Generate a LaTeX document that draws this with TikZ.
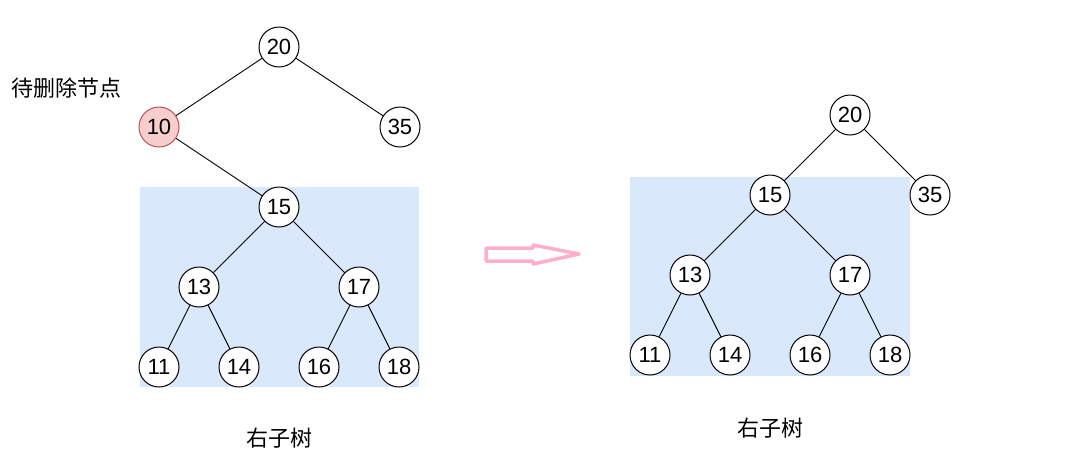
\documentclass[tikz,border=0pt]{standalone}
\usepackage{fontspec}
\setmainfont{Liberation Sans}
\newfontfamily\cjk{Noto Sans CJK SC}
\usepackage{tikz}
\definecolor{subbg}{HTML}{DAE8FC}
\definecolor{delfill}{HTML}{F8CECC}
\definecolor{deldraw}{HTML}{B85450}
\definecolor{arrpink}{HTML}{FFB0C8}
\tikzset{
  num/.style={circle, draw, line width=1pt, fill=white, minimum size=40pt, inner sep=0pt,
    font=\fontsize{22}{24}\selectfont},
  delnode/.style={num, fill=delfill, draw=deldraw},
  label/.style={font=\cjk\fontsize{22}{25}\selectfont, inner sep=0pt},
  edge/.style={line width=0.9pt}
}
\begin{document}
\begin{tikzpicture}[x=1pt, y=-1pt]
    \useasboundingbox (0,0) rectangle (1088,475);
    % shaded subtrees
    \fill[subbg] (140,187) rectangle (419,387);
    \fill[subbg] (630,177) rectangle (910,376);
    % left tree
    \node[num] (a) at (279, 47) {20};
    \node[delnode] (b) at (159, 127) {10};
    \node[num] (c) at (400, 127) {35};
    \node[num] (d) at (279, 207) {15};
    \node[num] (e) at (199, 287) {13};
    \node[num] (f) at (359, 287) {17};
    \node[num] (g) at (159, 367) {11};
    \node[num] (h) at (239, 367) {14};
    \node[num] (i) at (319, 367) {16};
    \node[num] (j) at (399, 367) {18};
    \node[label] (k) at (67, 88) {待删除节点};
    \node[label] (l) at (279, 438) {右子树};
    \draw[edge] (a) -- (b);
    \draw[edge] (a) -- (c);
    \draw[edge] (b) -- (d);
    \draw[edge] (d) -- (e);
    \draw[edge] (d) -- (f);
    \draw[edge] (e) -- (g);
    \draw[edge] (e) -- (h);
    \draw[edge] (f) -- (i);
    \draw[edge] (f) -- (j);
    % big arrow
    \draw[arrpink, line width=3.5pt, fill=white, line join=round]
      (486,248) -- (533,248) -- (533,245) -- (579,254) -- (533,264) -- (533,261) -- (486,261) -- cycle;
    % right tree
    \node[num] (ra) at (850, 115) {20};
    \node[num] (rc) at (930, 195) {35};
    \node[num] (rd) at (770, 195) {15};
    \node[num] (re) at (690, 275) {13};
    \node[num] (rf) at (850, 275) {17};
    \node[num] (rg) at (650, 355) {11};
    \node[num] (rh) at (730, 355) {14};
    \node[num] (ri) at (810, 355) {16};
    \node[num] (rj) at (890, 355) {18};
    \node[label] (rl) at (770, 428) {右子树};
    \draw[edge] (ra) -- (rd);
    \draw[edge] (ra) -- (rc);
    \draw[edge] (rd) -- (re);
    \draw[edge] (rd) -- (rf);
    \draw[edge] (re) -- (rg);
    \draw[edge] (re) -- (rh);
    \draw[edge] (rf) -- (ri);
    \draw[edge] (rf) -- (rj);
\end{tikzpicture}
\end{document}
